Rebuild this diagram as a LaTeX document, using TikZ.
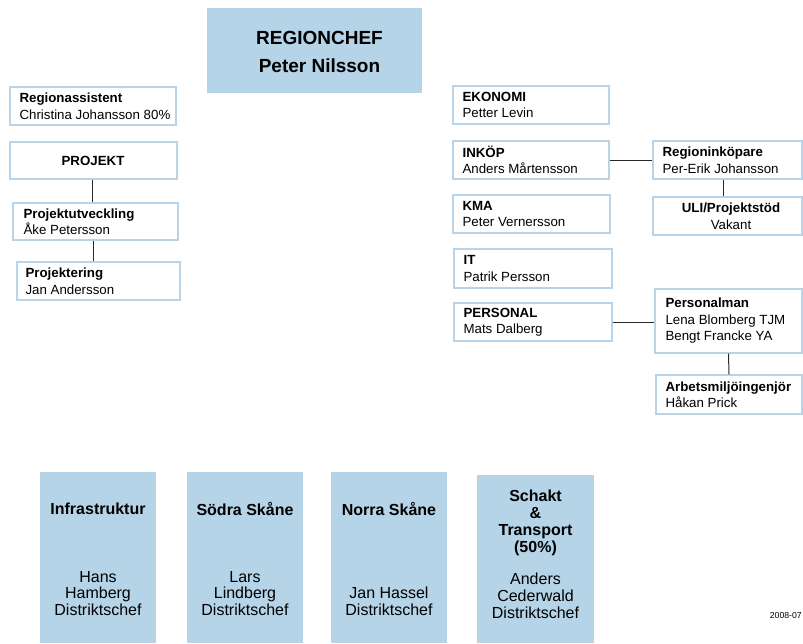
\documentclass[tikz,border=0pt]{standalone}
\usepackage{fontspec}
\setmainfont{Liberation Sans}
\definecolor{boxedge}{RGB}{184,212,232}
\definecolor{boxfill}{RGB}{181,212,231}
\definecolor{linkgray}{RGB}{40,40,40}
\begin{document}
\begin{tikzpicture}[x=1pt,y=-1pt,
  % white boxes with a light blue frame; args: width, height
  staff/.style 2 args={draw=boxedge, line width=1.3pt, fill=white, inner sep=0pt,
    minimum width=#1, minimum height=#2},
  stafftext/.style={anchor=west, align=left, inner sep=0pt, font=\fontsize{13.3}{16.5}\selectfont},
  staffctext/.style={stafftext, anchor=center, align=center},
  chief/.style={fill=boxfill, draw=none, minimum width=215pt, minimum height=85pt},
  chieftext/.style={font=\bfseries\fontsize{19}{19}\selectfont, anchor=base, inner sep=0pt},
  district/.style={fill=boxfill, draw=none},
  dtitle/.style={font=\bfseries\fontsize{16}{16.5}\selectfont, align=center, anchor=base, inner sep=0pt},
  dname/.style={font=\fontsize{16}{16.5}\selectfont, align=center, anchor=base, inner sep=0pt},
  link/.style={draw=linkgray, line width=1pt}
]
\useasboundingbox (0,0) rectangle (803,643);

% head of region
\node[chief] (chef) at (314.5,50.5) {};
\node[chieftext] (cheft) at (319.5,44.8) {REGIONCHEF};
\node[chieftext] (chefn) at (319.5,72) {Peter Nilsson};

% left column
\node[staff={166pt}{38pt}] (assist) at (93,106) {};
\node[stafftext] (assistt) at ([xshift=10pt]assist.west) {\textbf{Regionassistent}\\Christina Johansson 80\%};
\node[staff={167pt}{37pt}] (projekt) at (93.5,160.5) {};
\node[staffctext] (projektt) at (93,160.5) {\textbf{PROJEKT}};
\node[staff={165pt}{37pt}] (projutv) at (95.5,221.5) {};
\node[stafftext] (projutvt) at ([xshift=11pt]projutv.west) {\textbf{Projektutveckling}\\Åke Petersson};
\node[staff={163pt}{38pt}] (projering) at (98.5,281) {};
\node[stafftext] (projeringt) at ([xshift=9pt]projering.west) {\textbf{Projektering}\\Jan Andersson};

% staff functions
\node[staff={156pt}{38pt}] (ekonomi) at (531,105) {};
\node[stafftext] (ekonomit) at ([xshift=10pt]ekonomi.west) {\textbf{EKONOMI}\\Petter Levin};
\node[staff={156pt}{38pt}] (inkop) at (531,160) {};
\node[stafftext] (inkopt) at ([xshift=10pt]inkop.west) {\textbf{INKÖP}\\Anders Mårtensson};
\node[staff={157pt}{38pt}] (kma) at (531.5,214) {};
\node[stafftext] (kmat) at ([xshift=10pt]kma.west) {\textbf{KMA}\\Peter Vernersson};
\node[staff={158pt}{39pt}] (it) at (533,268.5) {};
\node[stafftext] (itt) at ([xshift=10pt]it.west) {\textbf{IT}\\Patrik Persson};
\node[staff={158pt}{38pt}] (personal) at (533,322) {};
\node[stafftext] (personalt) at ([xshift=10pt]personal.west) {\textbf{PERSONAL}\\Mats Dalberg};

\node[staff={149pt}{38pt}] (reginkop) at (727.5,160) {};
\node[stafftext] (reginkopt) at ([xshift=10pt]reginkop.west) {\textbf{Regioninköpare}\\Per-Erik Johansson};
\node[staff={149pt}{38pt}] (uli) at (727.5,216) {};
\node[staffctext] (ulit) at (731,216) {\textbf{ULI/Projektstöd}\\Vakant};
\node[staff={147pt}{64pt}] (persman) at (728.5,321) {};
\node[stafftext] (persmant) at ([xshift=11pt]persman.west) {\textbf{Personalman}\\Lena Blomberg TJM\\Bengt Francke YA};
\node[staff={146pt}{39pt}] (arbmiljo) at (729,394.5) {};
\node[stafftext] (arbmiljot) at ([xshift=10pt]arbmiljo.west) {\textbf{Arbetsmiljöingenjör}\\Håkan Prick};

% connectors
\draw[link] (projekt.south -| 92,0) -- (projutv.north -| 92,0);
\draw[link] (projutv.south -| 93,0) -- (projering.north -| 93,0);
\draw[link] (inkop.east) -- (reginkop.west);
\draw[link] (reginkop.south -| 723,0) -- (uli.north -| 723,0);
\draw[link] (personal.east) -- (personal.east -| persman.west);
\draw[link] (persman.south) -- (arbmiljo.north);

% districts
\node[district, minimum width=116pt, minimum height=171pt] (infra) at (98,557.5) {};
\node[district, minimum width=116pt, minimum height=171pt] (sodra) at (245,557.5) {};
\node[district, minimum width=116pt, minimum height=171pt] (norra) at (389,557.5) {};
\node[district, minimum width=117pt, minimum height=168pt] (schakt) at (535.5,559) {};

% multi-line text sits on the baseline of its last line
\node[dtitle] (infrat) at (98,514) {Infrastruktur};
\node[dname] (infran) at (98,615) {Hans\\Hamberg\\Distriktschef};
\node[dtitle] (sodrat) at (245,515) {Södra Skåne};
\node[dname] (sodran) at (245,615) {Lars\\Lindberg\\Distriktschef};
\node[dtitle] (norrat) at (389,515) {Norra Skåne};
\node[dname] (norran) at (389,615) {Jan Hassel\\Distriktschef};
\node[dtitle, font=\bfseries\fontsize{16}{17}\selectfont] (schaktt) at (535.5,552) {Schakt\\\&\\Transport\\(50\%)};
\node[dname, font=\fontsize{16}{17}\selectfont] (schaktn) at (535.5,618) {Anders\\Cederwald\\Distriktschef};

% date stamp
\node[font=\fontsize{8.7}{9}\selectfont, anchor=base east, inner sep=0pt] (datum) at (802,618) {2008-07};
\end{tikzpicture}
\end{document}
